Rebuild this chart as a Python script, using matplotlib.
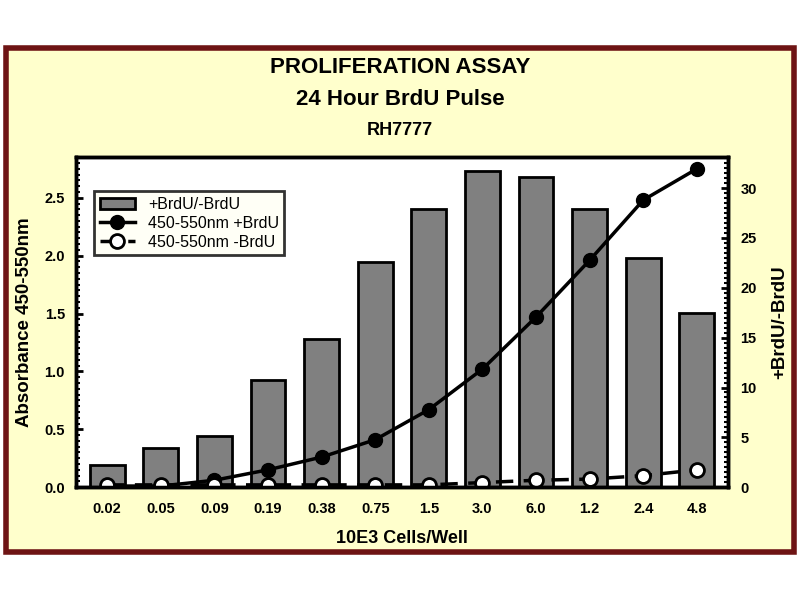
import numpy as np
import matplotlib.pyplot as plt
from matplotlib.patches import Rectangle
from matplotlib.ticker import MultipleLocator

plt.rcParams['font.family'] = ['Liberation Sans', 'DejaVu Sans']

cells = ['0.02', '0.05', '0.09', '0.19', '0.38', '0.75', '1.5', '3.0', '6.0', '1.2', '2.4', '4.8']
ratio = [2.2, 3.9, 5.1, 10.8, 14.9, 22.6, 27.9, 31.7, 31.1, 27.9, 23.0, 17.5]
abs_plus = [0.01, 0.01, 0.06, 0.15, 0.26, 0.41, 0.67, 1.02, 1.47, 1.96, 2.48, 2.75]
abs_minus = [0.02, 0.02, 0.02, 0.02, 0.02, 0.02, 0.02, 0.04, 0.06, 0.07, 0.10, 0.15]

x = np.arange(len(cells))

fig = plt.figure(figsize=(8, 6), dpi=100)
fig.patch.set_facecolor('white')

# cream panel with dark red frame, behind the axes
fig.patches.append(Rectangle((0.008, 0.08), 0.984, 0.84, transform=fig.transFigure,
                             facecolor='#ffffcc', edgecolor='#6e1414', linewidth=4, zorder=-5))

ax2 = fig.add_axes([0.095, 0.188, 0.815, 0.55])
ax = ax2.twinx()
# lines go on top of the bars, but left axis stays on the left
ax.yaxis.tick_left()
ax.yaxis.set_label_position('left')
ax2.yaxis.tick_right()
ax2.yaxis.set_label_position('right')
ax.set_zorder(ax2.get_zorder() + 1)
ax.patch.set_visible(False)
ax2.set_facecolor('white')

bars = ax2.bar(x, ratio, width=0.65, color='#808080', edgecolor='black', linewidth=2,
               label='+BrdU/-BrdU')
ln1, = ax.plot(x, abs_plus, '-', color='black', lw=2.5, marker='o', ms=10,
               mfc='black', mec='black', label='450-550nm +BrdU')
ln2, = ax.plot(x, abs_minus, '--', color='black', lw=2.5, dashes=(5, 3), marker='o', ms=10,
               mfc='white', mec='black', mew=2, label='450-550nm -BrdU')

ax.set_xlim(-0.58, 11.58)
ax.set_ylim(0, 2.85)
ax2.set_ylim(0, 33.1)
ax2.set_xticks(x)
ax2.set_xticklabels(cells, fontsize=10.5, fontweight='bold')
ax2.tick_params(axis='x', length=0, pad=11)

ax.yaxis.set_minor_locator(MultipleLocator(0.05))
ax.set_yticks([0, 0.5, 1.0, 1.5, 2.0, 2.5])
ax.set_yticklabels(['0.0', '0.5', '1.0', '1.5', '2.0', '2.5'], fontsize=10.5, fontweight='bold')
ax.tick_params(axis='y', which='major', direction='in', length=5, width=2, pad=8)
ax.tick_params(axis='y', which='minor', direction='in', length=3, width=1.5)

ax2.yaxis.set_minor_locator(MultipleLocator(0.5))
ax2.set_yticks([0, 5, 10, 15, 20, 25, 30])
ax2.set_yticklabels(['0', '5', '10', '15', '20', '25', '30'], fontsize=10.5, fontweight='bold')
ax2.tick_params(axis='y', which='major', direction='in', length=5, width=2, pad=9)
ax2.tick_params(axis='y', which='minor', direction='in', length=3, width=1.5)

for a in (ax, ax2):
    for s in a.spines.values():
        s.set_linewidth(2.5)

ax.set_ylabel('Absorbance 450-550nm', fontsize=13.5, fontweight='bold', labelpad=8)
ax2.set_ylabel('+BrdU/-BrdU', fontsize=13.5, fontweight='bold', labelpad=10)
ax2.set_xlabel('10E3 Cells/Well', fontsize=13, fontweight='bold', labelpad=10)

leg = ax.legend(handles=[bars, ln1, ln2], loc='upper left', bbox_to_anchor=(0.028, 0.897),
                fontsize=11.5, frameon=True, fancybox=False, borderpad=0.35,
                handlelength=2.2, labelspacing=0.25, borderaxespad=0)
leg.get_frame().set_edgecolor('black')
leg.get_frame().set_linewidth(2)
leg.get_frame().set_facecolor('#fffff4')

fig.text(0.5, 0.887, 'PROLIFERATION ASSAY', ha='center', va='center', fontsize=16, fontweight='bold')
fig.text(0.5, 0.834, '24 Hour BrdU Pulse', ha='center', va='center', fontsize=16, fontweight='bold')
fig.text(0.5, 0.783, 'RH7777', ha='center', va='center', fontsize=13, fontweight='bold')

fig.savefig('out.png', dpi=100)
